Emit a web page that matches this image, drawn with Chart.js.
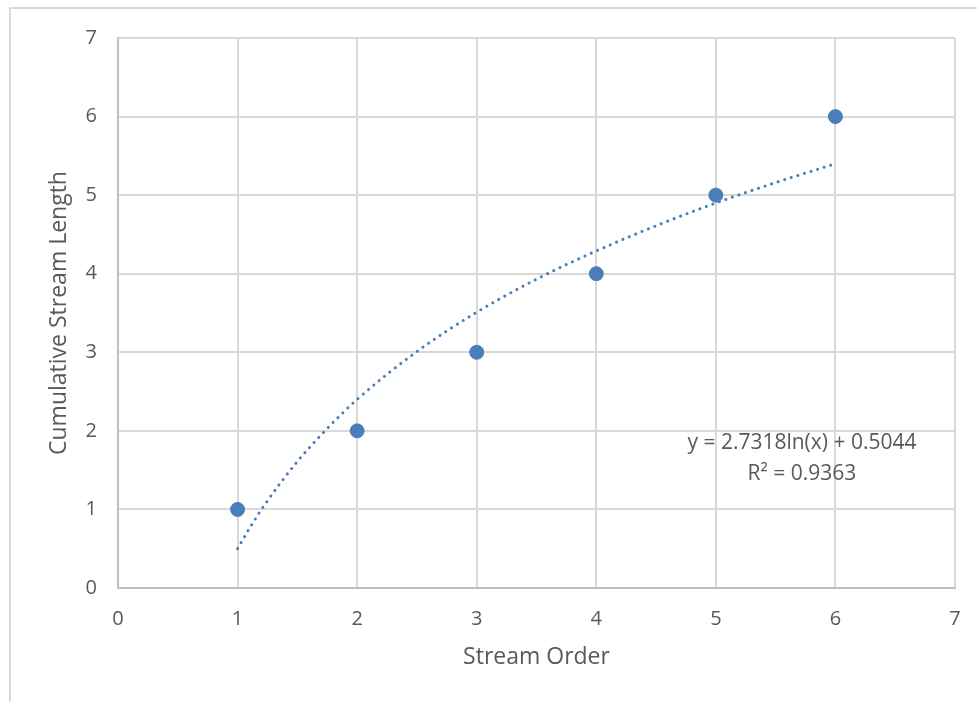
<!DOCTYPE html>
<html lang="en">
<head>
<meta charset="UTF-8">
<title>Stream Order vs Cumulative Stream Length</title>
<script src="https://cdn.jsdelivr.net/npm/chart.js"></script>
<style>
    body { margin: 0; background: #fff; overflow: hidden; }
    #wrap { position: relative; width: 977px; height: 702px; overflow: hidden; }
    #frame {
        position: absolute; left: 9px; top: 7px; width: 1000px; height: 720px;
        border: 2px solid #d9d9d9; box-sizing: border-box;
    }
    canvas { position: absolute; left: 0; top: 0; }
</style>
</head>
<body>
<div id="wrap">
    <div id="frame"></div>
    <canvas id="chart" width="977" height="702"></canvas>
</div>
<script>
    // observed points
    const streamOrder = [1, 2, 3, 4, 5, 6];
    const cumLength = [1, 2, 3, 4, 5, 6];

    // trendline
    const trendX = [1, 1.1, 1.25, 1.5, 1.75, 2, 2.5, 3, 3.5, 4, 4.5, 5, 5.5, 6];
    const trendY = [0.50, 0.76, 1.11, 1.61, 2.03, 2.40, 3.01, 3.51, 3.93, 4.29, 4.61, 4.90, 5.16, 5.40];

    const eqLines = ['y = 2.7318ln(x) + 0.5044', 'R² = 0.9363'];

    const font = "'Open Sans', sans-serif";
    const tickColor = '#595959';
    const blue = '#4a7ebb';

    const labelPlugin = {
        id: 'eqLabel',
        afterDatasetsDraw(chart) {
            const { ctx, scales } = chart;
            ctx.save();
            ctx.font = '21px ' + font;
            ctx.fillStyle = tickColor;
            ctx.textAlign = 'center';
            ctx.textBaseline = 'middle';
            const x = scales.x.getPixelForValue(5.72);
            ctx.fillText(eqLines[0], x, scales.y.getPixelForValue(1.845));
            ctx.fillText(eqLines[1], x, scales.y.getPixelForValue(1.45));
            ctx.restore();
        }
    };

    new Chart(document.getElementById('chart'), {
        type: 'scatter',
        data: {
            datasets: [{
                label: 'Cumulative Stream Length',
                data: streamOrder.map((x, i) => ({ x: x, y: cumLength[i] })),
                backgroundColor: blue,
                borderColor: blue,
                pointRadius: 7,
                order: 0
            }, {
                label: 'Log trend',
                data: trendX.map((x, i) => ({ x: x, y: trendY[i] })),
                showLine: true,
                pointRadius: 0,
                borderColor: blue,
                borderWidth: 3,
                borderDash: [0.1, 6.8],
                borderCapStyle: 'round',
                cubicInterpolationMode: 'monotone',
                order: 1
            }]
        },
        plugins: [labelPlugin],
        options: {
            responsive: false,
            animation: false,
            layout: { padding: { top: 38, right: 22, left: 0, bottom: 0 } },
            plugins: {
                legend: { display: false },
                tooltip: { enabled: false }
            },
            scales: {
                x: {
                    type: 'linear',
                    min: 0, max: 7,
                    ticks: { stepSize: 1, color: tickColor, font: { family: font, size: 20 }, padding: 19 },
                    grid: { color: '#d9d9d9', lineWidth: 2, drawTicks: false },
                    border: { color: '#bfbfbf', width: 2 },
                    title: { display: true, text: 'Stream Order', color: tickColor, font: { family: font, size: 23 }, padding: { bottom: 31 } },
                    afterFit(scale) {
                        scale.height = 702 - 588;
                        scale.paddingLeft = 0;
                        scale.paddingRight = 0;
                    }
                },
                y: {
                    min: 0, max: 7,
                    ticks: { stepSize: 1, color: tickColor, font: { family: font, size: 20 }, padding: 21 },
                    grid: { color: '#d9d9d9', lineWidth: 2, drawTicks: false },
                    border: { color: '#bfbfbf', width: 2 },
                    title: { display: true, text: 'Cumulative Stream Length', color: tickColor, font: { family: font, size: 23 }, padding: { top: 46 } },
                    afterFit(scale) { scale.width = 118; }
                }
            }
        }
    });
</script>
</body>
</html>
